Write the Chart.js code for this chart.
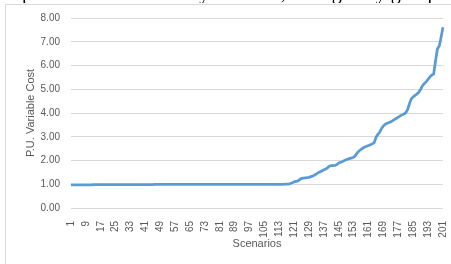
<!DOCTYPE html>
<html>
<head>
<meta charset="utf-8">
<script src="https://cdn.jsdelivr.net/npm/chart.js@4.4.1/dist/chart.umd.min.js"></script>
<style>
  html, body { margin: 0; padding: 0; background: #fff; overflow: hidden; }
  body { width: 451px; height: 264px; position: relative; }
  #caption {
    position: absolute; left: 22px; top: -18px; height: 21px; overflow: hidden;
    line-height: 20px; white-space: nowrap; z-index: 2;
    font-family: "Liberation Serif", serif; font-size: 20px; color: #000;
  }
  #frame {
    position: absolute; left: 5px; top: 4px; width: 470px; height: 290px;
    border: 1px solid #d9d9d9; background: #fff;
  }
  #chart { position: absolute; left: 0; top: 0; }
</style>
</head>
<body>
<div id="caption">plotted variable cost by scenario, arranged by group capacity</div>
<div id="frame"></div>
<canvas id="chart" width="451" height="264"></canvas>
<script>
const scenarios = Array.from({ length: 201 }, (_, i) => String(i + 1));
const tickLabels = ["1", "9", "17", "25", "33", "41", "49", "57", "65", "73", "81", "89", "97",
  "105", "113", "121", "129", "137", "145", "153", "161", "169", "177", "185", "193", "201"];

const puVariableCost = [
  // 1-12
  0.97, 0.97, 0.97, 0.97, 0.97, 0.97, 0.97, 0.97, 0.97, 0.97, 0.97, 0.97,
  // 13-45
  0.98, 0.98, 0.98, 0.98, 0.98, 0.98, 0.98, 0.98, 0.98, 0.98, 0.98, 0.98, 0.98, 0.98, 0.98, 0.98,
  0.98, 0.98, 0.98, 0.98, 0.98, 0.98, 0.98, 0.98, 0.98, 0.98, 0.98, 0.98, 0.98, 0.98, 0.98, 0.98,
  0.98,
  // 46-85
  0.99, 0.99, 0.99, 0.99, 0.99, 0.99, 0.99, 0.99, 0.99, 0.99, 0.99, 0.99, 0.99, 0.99, 0.99, 0.99,
  0.99, 0.99, 0.99, 0.99, 0.99, 0.99, 0.99, 0.99, 0.99, 0.99, 0.99, 0.99, 0.99, 0.99, 0.99, 0.99,
  0.99, 0.99, 0.99, 0.99, 0.99, 0.99, 0.99, 0.99,
  // 86-112
  1.00, 1.00, 1.00, 1.00, 1.00, 1.00, 1.00, 1.00, 1.00, 1.00, 1.00, 1.00, 1.00, 1.00, 1.00, 1.00,
  1.00, 1.00, 1.00, 1.00, 1.00, 1.00, 1.00, 1.00, 1.00, 1.00, 1.00,
  // 113-117
  1.00, 1.00, 1.00, 1.01, 1.01,
  // 118-141
  1.01, 1.03, 1.06, 1.10, 1.12, 1.14, 1.20, 1.25, 1.26, 1.27, 1.28, 1.29,
  1.32, 1.35, 1.39, 1.44, 1.49, 1.53, 1.57, 1.61, 1.64, 1.70, 1.77, 1.78,
  // 142-165
  1.78, 1.79, 1.84, 1.90, 1.93, 1.96, 2.00, 2.03, 2.06, 2.09, 2.11, 2.14,
  2.22, 2.33, 2.41, 2.47, 2.53, 2.57, 2.60, 2.63, 2.66, 2.70, 2.75, 2.98,
  // 166-189
  3.10, 3.20, 3.35, 3.46, 3.53, 3.57, 3.60, 3.63, 3.68, 3.73, 3.78, 3.83,
  3.88, 3.92, 3.96, 4.01, 4.15, 4.40, 4.60, 4.68, 4.74, 4.80, 4.88, 5.00,
  // 190-201
  5.15, 5.24, 5.32, 5.42, 5.52, 5.60, 5.65, 6.20, 6.70, 6.82, 7.20, 7.61
];

const gray = "#595959";
const gridColor = "#d9d9d9";

new Chart(document.getElementById("chart"), {
  type: "line",
  data: {
    labels: scenarios,
    datasets: [{
      label: "P.U. Variable Cost",
      data: puVariableCost,
      borderColor: "#5b9bd5",
      borderWidth: 2.75,
      pointRadius: 0,
      tension: 0,
      fill: false,
    }],
  },
  options: {
    responsive: false,
    animation: false,
    devicePixelRatio: 1,
    layout: { padding: { top: 18, right: 8, bottom: 0, left: 0 } },
    plugins: {
      legend: { display: false },
      tooltip: { enabled: false },
    },
    scales: {
      x: {
        offset: false,
        grid: { display: false },
        border: { display: false },
        ticks: {
          autoSkip: false,
          minRotation: 90,
          maxRotation: 90,
          padding: 5,
          color: gray,
          font: { family: "Liberation Sans", size: 10 },
          callback: function (value, index) {
            const label = scenarios[index];
            return tickLabels.includes(label) ? label : "";
          },
        },
        title: {
          display: true,
          text: "Scenarios",
          color: gray,
          font: { family: "Liberation Sans", size: 11 },
          padding: { top: 0, bottom: 13.4 },
        },
        afterFit: (scale) => {
          scale.height = 56;
          scale.paddingLeft = 0;
          scale.paddingRight = 0;
        },
      },
      y: {
        min: 0,
        max: 8,
        grid: { color: gridColor, lineWidth: 1, drawTicks: false },
        border: { display: false },
        ticks: {
          stepSize: 1,
          padding: 11,
          color: gray,
          font: { family: "Liberation Sans", size: 10 },
          callback: (value) => value.toFixed(2),
        },
        title: {
          display: true,
          text: "P.U. Variable Cost",
          color: gray,
          font: { family: "Liberation Sans", size: 11 },
          padding: { top: 24.4, bottom: 0 },
        },
        afterFit: (scale) => { scale.width = 71; },
      },
    },
  },
});
</script>
</body>
</html>
